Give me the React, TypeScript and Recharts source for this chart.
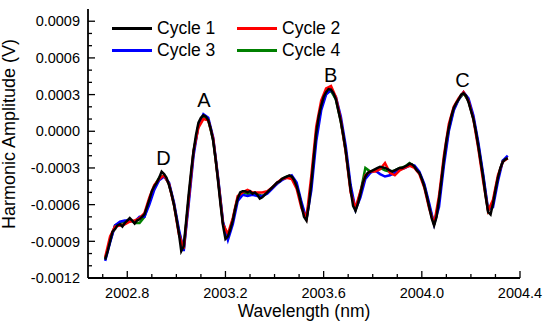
import React from 'react';
import { LineChart, Line, XAxis, YAxis, Legend, ReferenceDot } from 'recharts';

const FONT = '"Liberation Sans", Arial, Helvetica, sans-serif';

// Sampling grids (wavelength, nm)
const cycle1Start = 2002.71;
const cycle1Step = 0.01;
const otherStart = 2002.71;
const otherStep = 0.02;

// Harmonic amplitude (V)
const cycle1Values = [
  -10.5e-4, -9.8e-4, -9.0e-4, -8.2e-4, -8.0e-4, -7.7e-4, -7.6e-4, -7.8e-4, -7.5e-4, -7.3e-4,
  -7.1e-4, -7.3e-4, -7.55e-4, -7.3e-4, -7.2e-4, -7.0e-4, -6.8e-4, -6.2e-4, -5.6e-4, -4.9e-4,
  -4.5e-4, -4.2e-4, -3.8e-4, -3.3e-4, -3.5e-4, -3.8e-4, -4.4e-4, -5.1e-4, -6.0e-4, -7.1e-4,
  -8.3e-4, -9.8e-4, -9.4e-4, -7.3e-4, -5.2e-4, -3.3e-4, -1.6e-4, -0.3e-4, 0.7e-4, 1.1e-4,
  1.3e-4, 1.2e-4, 0.9e-4, 0.2e-4, -0.8e-4, -2.3e-4, -4.1e-4, -6.0e-4, -7.7e-4, -8.8e-4,
  -8.6e-4, -8.0e-4, -7.3e-4, -6.3e-4, -5.5e-4, -5.0e-4, -4.9e-4, -4.9e-4, -5.0e-4, -4.9e-4,
  -5.1e-4, -5.0e-4, -5.2e-4, -5.5e-4, -5.4e-4, -5.2e-4, -5.0e-4, -4.8e-4, -4.6e-4, -4.4e-4,
  -4.2e-4, -4.1e-4, -3.9e-4, -3.8e-4, -3.7e-4, -3.6e-4, -3.7e-4, -4.0e-4, -4.5e-4, -5.2e-4,
  -6.1e-4, -7.0e-4, -7.3e-4, -6.0e-4, -4.2e-4, -2.1e-4, -0.1e-4, 1.2e-4, 2.1e-4, 2.8e-4,
  3.2e-4, 3.45e-4, 3.4e-4, 3.1e-4, 2.6e-4, 1.7e-4, 0.8e-4, -0.3e-4, -1.6e-4, -3.2e-4,
  -4.8e-4, -6.1e-4, -6.5e-4, -5.9e-4, -5.1e-4, -4.2e-4, -3.7e-4, -3.4e-4, -3.3e-4, -3.2e-4,
  -3.1e-4, -3.0e-4, -2.9e-4, -2.95e-4, -3.0e-4, -3.1e-4, -3.2e-4, -3.3e-4, -3.2e-4, -3.1e-4,
  -3.0e-4, -3.0e-4, -2.9e-4, -2.8e-4, -2.65e-4, -2.7e-4, -2.9e-4, -3.2e-4, -3.4e-4, -3.9e-4,
  -4.5e-4, -5.3e-4, -6.2e-4, -7.1e-4, -7.7e-4, -7.0e-4, -5.6e-4, -4.0e-4, -2.3e-4, -0.8e-4,
  0.3e-4, 1.2e-4, 1.9e-4, 2.3e-4, 2.6e-4, 3.0e-4, 3.1e-4, 2.9e-4, 2.4e-4, 1.7e-4,
  1.0e-4, 0.0, -1.2e-4, -2.5e-4, -3.8e-4, -5.3e-4, -6.6e-4, -6.8e-4, -5.9e-4, -4.8e-4,
  -3.8e-4, -3.0e-4, -2.5e-4, -2.3e-4, -2.2e-4,
];

const cycle2Values = [
  -10.3e-4, -8.6e-4, -7.8e-4, -7.7e-4, -7.6e-4, -7.4e-4, -7.3e-4, -7.1e-4, -6.7e-4, -5.4e-4,
  -4.4e-4, -3.9e-4, -3.6e-4, -4.3e-4, -6.0e-4, -8.4e-4, -9.6e-4, -5.6e-4, -1.6e-4, 0.3e-4,
  1.0e-4, 0.9e-4, -0.6e-4, -4.0e-4, -7.6e-4, -8.4e-4, -7.1e-4, -5.3e-4, -5.0e-4, -4.8e-4,
  -5.0e-4, -5.0e-4, -5.0e-4, -4.9e-4, -4.6e-4, -4.2e-4, -3.9e-4, -3.8e-4, -3.9e-4, -4.7e-4,
  -6.3e-4, -7.1e-4, -3.6e-4, 0.4e-4, 2.5e-4, 3.5e-4, 3.7e-4, 2.8e-4, 0.9e-4, -1.7e-4,
  -5.0e-4, -6.3e-4, -4.9e-4, -3.6e-4, -3.3e-4, -3.3e-4, -3.1e-4, -2.6e-4, -3.4e-4, -3.6e-4,
  -3.2e-4, -3.0e-4, -2.8e-4, -3.0e-4, -3.5e-4, -4.6e-4, -6.3e-4, -7.6e-4, -5.3e-4, -2.0e-4,
  0.6e-4, 2.0e-4, 2.7e-4, 3.2e-4, 2.5e-4, 1.0e-4, -1.4e-4, -4.1e-4, -6.5e-4, -5.6e-4,
  -3.6e-4, -2.5e-4, -2.2e-4,
];

const cycle3Values = [
  -10.6e-4, -9.1e-4, -7.7e-4, -7.4e-4, -7.3e-4, -7.3e-4, -7.4e-4, -7.0e-4, -7.0e-4, -6.0e-4,
  -4.8e-4, -4.0e-4, -3.7e-4, -4.2e-4, -5.8e-4, -8.0e-4, -9.8e-4, -6.0e-4, -2.0e-4, 0.5e-4,
  1.4e-4, 1.1e-4, -0.5e-4, -3.8e-4, -7.4e-4, -8.9e-4, -7.6e-4, -5.7e-4, -5.2e-4, -5.3e-4,
  -5.2e-4, -5.3e-4, -5.3e-4, -5.1e-4, -4.7e-4, -4.3e-4, -4.0e-4, -3.8e-4, -3.6e-4, -4.2e-4,
  -5.8e-4, -7.2e-4, -4.8e-4, -0.8e-4, 1.7e-4, 3.0e-4, 3.4e-4, 2.8e-4, 1.2e-4, -1.2e-4,
  -4.4e-4, -6.4e-4, -5.4e-4, -3.9e-4, -3.4e-4, -3.2e-4, -3.5e-4, -3.7e-4, -3.6e-4, -3.4e-4,
  -3.1e-4, -3.0e-4, -2.8e-4, -2.8e-4, -3.3e-4, -4.3e-4, -5.9e-4, -7.6e-4, -6.2e-4, -2.8e-4,
  0.0, 1.7e-4, 2.6e-4, 3.2e-4, 2.7e-4, 1.3e-4, -0.9e-4, -3.5e-4, -6.4e-4, -6.2e-4,
  -4.1e-4, -2.4e-4, -2.0e-4,
];

const cycle4Values = [
  -10.4e-4, -9.0e-4, -7.7e-4, -7.5e-4, -7.4e-4, -7.2e-4, -7.5e-4, -7.5e-4, -7.0e-4, -5.7e-4,
  -4.5e-4, -3.8e-4, -3.6e-4, -4.3e-4, -5.9e-4, -8.2e-4, -9.7e-4, -5.6e-4, -1.7e-4, 0.5e-4,
  1.1e-4, 0.9e-4, -0.7e-4, -3.9e-4, -7.5e-4, -8.7e-4, -7.2e-4, -5.4e-4, -5.0e-4, -5.1e-4,
  -5.1e-4, -5.1e-4, -5.3e-4, -5.0e-4, -4.6e-4, -4.3e-4, -3.9e-4, -3.7e-4, -3.7e-4, -4.4e-4,
  -6.0e-4, -7.2e-4, -4.3e-4, -0.3e-4, 2.0e-4, 3.1e-4, 3.3e-4, 2.6e-4, 0.8e-4, -1.6e-4,
  -4.8e-4, -6.4e-4, -5.0e-4, -3.0e-4, -3.3e-4, -3.2e-4, -3.0e-4, -3.2e-4, -3.3e-4, -3.2e-4,
  -3.0e-4, -2.9e-4, -2.6e-4, -2.9e-4, -3.4e-4, -4.4e-4, -6.1e-4, -7.6e-4, -5.7e-4, -2.4e-4,
  0.2e-4, 1.8e-4, 2.6e-4, 3.1e-4, 2.5e-4, 1.1e-4, -1.1e-4, -3.7e-4, -6.5e-4, -5.8e-4,
  -3.8e-4, -2.4e-4, -2.2e-4,
];

const seriesNames = ['Cycle 1', 'Cycle 2', 'Cycle 3', 'Cycle 4'];
const seriesColors = ['#000000', '#ff0000', '#0000ff', '#008000'];

const xMajorTicks = [2002.8, 2003.2, 2003.6, 2004.0, 2004.4];
const xMinorTicks = [2002.7, 2002.9, 2003.0, 2003.1, 2003.3, 2003.4, 2003.5, 2003.7, 2003.8, 2003.9, 2004.1, 2004.2, 2004.3];
const yMajorTicks = [-0.0012, -0.0009, -0.0006, -0.0003, 0, 0.0003, 0.0006, 0.0009];
const yMinorTicks = [-0.0011, -0.001, -0.0008, -0.0007, -0.0005, -0.0004, -0.0002, -0.0001, 0.0001, 0.0002, 0.0004, 0.0005, 0.0007, 0.0008];
const xDomain = [2002.64, 2004.4];
const yDomain = [-0.0012, 0.001];

const peakNames = ['A', 'B', 'C', 'D'];
const peakLabelX = [2003.112, 2003.629, 2004.166, 2002.947];
const peakLabelY = [0.00026, 0.000463, 0.000418, -0.000215];

const toPoints = (start: number, step: number, values: number[]) =>
  values.map((v, i) => ({ x: +(start + i * step).toFixed(2), v }));

const series = [
  { name: seriesNames[0], color: seriesColors[0], data: toPoints(cycle1Start, cycle1Step, cycle1Values) },
  { name: seriesNames[1], color: seriesColors[1], data: toPoints(otherStart, otherStep, cycle2Values) },
  { name: seriesNames[2], color: seriesColors[2], data: toPoints(otherStart, otherStep, cycle3Values) },
  { name: seriesNames[3], color: seriesColors[3], data: toPoints(otherStart, otherStep, cycle4Values) },
];
const drawOrder = [3, 2, 1, 0];

const isMajor = (v: number, majors: number[]) => majors.some((m) => Math.abs(m - v) < 1e-9);
const MAJOR = 7;
const MINOR = 4;
const TICK_W = 1.3;

const BottomTick = (p: any) => {
  const { x, y, payload } = p;
  const major = isMajor(payload.value, xMajorTicks);
  return (
    <g>
      <line x1={x} y1={y} x2={x} y2={y - (major ? MAJOR : MINOR)} stroke="#000" strokeWidth={TICK_W} />
      {major && (
        <text x={x} y={y + 20} textAnchor="middle" fontSize={14.5} fontFamily={FONT} fill="#000">
          {Number(payload.value).toFixed(1)}
        </text>
      )}
    </g>
  );
};

const TopTick = (p: any) => {
  const { x, y, payload } = p;
  const major = isMajor(payload.value, xMajorTicks);
  return <line x1={x} y1={y} x2={x} y2={y + (major ? MAJOR : MINOR)} stroke="#000" strokeWidth={TICK_W} />;
};

const LeftTick = (p: any) => {
  const { x, y, payload } = p;
  const major = isMajor(payload.value, yMajorTicks);
  return (
    <g>
      <line x1={x} y1={y} x2={x + (major ? MAJOR : MINOR)} y2={y} stroke="#000" strokeWidth={TICK_W} />
      {major && (
        <text x={x - 8} y={y} dy="0.36em" textAnchor="end" fontSize={14.5} fontFamily={FONT} fill="#000">
          {Number(payload.value).toFixed(4)}
        </text>
      )}
    </g>
  );
};

const RightTick = (p: any) => {
  const { x, y, payload } = p;
  const major = isMajor(payload.value, yMajorTicks);
  return <line x1={x} y1={y} x2={x - (major ? MAJOR : MINOR)} y2={y} stroke="#000" strokeWidth={TICK_W} />;
};

const YTitle = () => (
  <text
    x={15}
    y={134}
    transform="rotate(-90, 15, 134)"
    textAnchor="middle"
    fontSize={18}
    fontFamily={FONT}
    fill="#000"
  >
    Harmonic Amplitude (V)
  </text>
);

const renderLegend = () => (
  <div
    style={{
      display: 'grid',
      gridTemplateColumns: '125px 125px',
      fontFamily: FONT,
      fontSize: 17.5,
      color: '#000',
      lineHeight: '22px',
    }}
  >
    {series.map((s) => (
      <div key={s.name} style={{ display: 'flex', alignItems: 'center', height: 22 }}>
        <span style={{ display: 'inline-block', width: 40, height: 3, background: s.color, marginRight: 5 }} />
        <span>{s.name}</span>
      </div>
    ))}
  </div>
);

export default function App() {
  const allX = [...xMajorTicks, ...xMinorTicks];
  const allY = [...yMajorTicks, ...yMinorTicks];
  return (
    <div style={{ position: 'absolute', left: 0, top: 0 }}>
      <LineChart width={550} height={334} margin={{ top: 9, right: 30, bottom: 16, left: 8 }} style={{ fontFamily: FONT }}>
        <XAxis
          xAxisId="main"
          dataKey="x"
          type="number"
          domain={xDomain}
          allowDataOverflow
          ticks={allX}
          interval={0}
          tickSize={0}
          tickMargin={0}
          tickLine={false}
          tick={BottomTick}
          height={40}
          axisLine={{ stroke: '#000', strokeWidth: 1.8 }}
          label={{ value: 'Wavelength (nm)', position: 'insideBottom', offset: 1, fontSize: 17.5, fill: '#000', fontFamily: FONT }}
        />
        <XAxis
          xAxisId="top"
          orientation="top"
          type="number"
          domain={xDomain}
          allowDataOverflow
          ticks={allX}
          interval={0}
          tickSize={0}
          tickMargin={0}
          tickLine={false}
          tick={TopTick}
          height={0}
          axisLine={{ stroke: '#000', strokeWidth: 1.8 }}
        />
        <YAxis
          yAxisId="main"
          type="number"
          domain={yDomain}
          allowDataOverflow
          ticks={allY}
          interval={0}
          tickSize={0}
          tickMargin={0}
          tickLine={false}
          tick={LeftTick}
          width={80}
          axisLine={{ stroke: '#000', strokeWidth: 1.8 }}
          label={{ content: () => <YTitle /> }}
        />
        <YAxis
          yAxisId="right"
          orientation="right"
          type="number"
          domain={yDomain}
          allowDataOverflow
          ticks={allY}
          interval={0}
          tickSize={0}
          tickMargin={0}
          tickLine={false}
          tick={RightTick}
          width={0}
          axisLine={{ stroke: '#000', strokeWidth: 1.8 }}
        />
        {drawOrder.map((i) => (
          <Line
            key={series[i].name}
            xAxisId="main"
            yAxisId="main"
            data={series[i].data}
            dataKey="v"
            name={series[i].name}
            type="linear"
            stroke={series[i].color}
            strokeWidth={2.5}
            dot={false}
            activeDot={false}
            isAnimationActive={false}
          />
        ))}
        {peakNames.map((n, i) => (
          <ReferenceDot
            key={n}
            xAxisId="main"
            yAxisId="main"
            x={peakLabelX[i]}
            y={peakLabelY[i]}
            r={0}
            fill="none"
            stroke="none"
            ifOverflow="visible"
            label={{ value: n, position: 'center', fontSize: 20, fill: '#000', fontFamily: FONT }}
          />
        ))}
        <Legend
          layout="vertical"
          align="center"
          verticalAlign="middle"
          content={renderLegend}
          wrapperStyle={{ top: 17, left: 112, width: 260 }}
        />
      </LineChart>
    </div>
  );
}
